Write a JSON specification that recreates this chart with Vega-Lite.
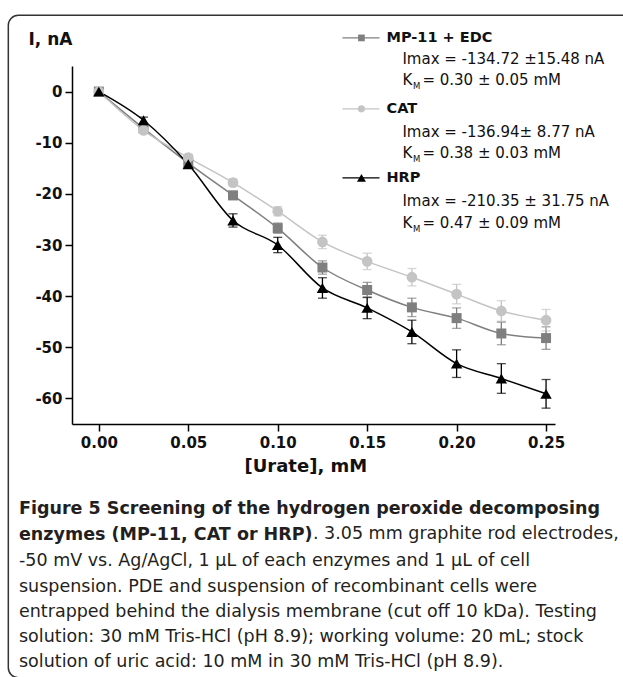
{
  "$schema": "https://vega.github.io/schema/vega-lite/v6.json",
  "width": 483,
  "height": 358,
  "autosize": "none",
  "padding": {"left": 72, "top": 66, "right": 68, "bottom": 253},
  "background": "white",
  "config": {
    "view": {"stroke": null},
    "font": "DejaVu Sans"
  },
  "title": {
    "text": ["Figure 5 Screening of the hydrogen peroxide decomposing", "enzymes (MP-11, CAT or HRP)"],
    "subtitle": [
      "-50 mV vs. Ag/AgCl, 1 µL of each enzymes and 1 µL of cell",
      "suspension. PDE and suspension of recombinant cells were",
      "entrapped behind the dialysis membrane (cut off 10 kDa). Testing",
      "solution: 30 mM Tris-HCl (pH 8.9); working volume: 20 mL; stock",
      "solution of uric acid: 10 mM in 30 mM Tris-HCl (pH 8.9)."
    ],
    "orient": "bottom",
    "anchor": "start",
    "frame": "group",
    "dx": -53,
    "offset": -178,
    "font": "DejaVu Sans",
    "fontSize": 17.5,
    "fontWeight": "bold",
    "lineHeight": 25.3,
    "color": "#231f20",
    "subtitleFont": "DejaVu Sans",
    "subtitleFontSize": 17.5,
    "subtitleFontWeight": "normal",
    "subtitleLineHeight": 25.3,
    "subtitlePadding": 9,
    "subtitleColor": "#231f20"
  },
  "data": {
    "values": [
      {"conc": 0.0, "series": "MP-11 + EDC", "I": 0.0, "err": 0.5},
      {"conc": 0.025, "series": "MP-11 + EDC", "I": -7.2, "err": 0.6},
      {"conc": 0.05, "series": "MP-11 + EDC", "I": -14.0, "err": 0.7},
      {"conc": 0.075, "series": "MP-11 + EDC", "I": -20.3, "err": 0.8},
      {"conc": 0.1, "series": "MP-11 + EDC", "I": -26.7, "err": 1.0},
      {"conc": 0.125, "series": "MP-11 + EDC", "I": -34.4, "err": 1.3},
      {"conc": 0.15, "series": "MP-11 + EDC", "I": -38.8, "err": 1.5},
      {"conc": 0.175, "series": "MP-11 + EDC", "I": -42.2, "err": 1.8},
      {"conc": 0.2, "series": "MP-11 + EDC", "I": -44.3, "err": 2.0},
      {"conc": 0.225, "series": "MP-11 + EDC", "I": -47.3, "err": 2.2},
      {"conc": 0.25, "series": "MP-11 + EDC", "I": -48.2, "err": 2.2},
      {"conc": 0.0, "series": "CAT", "I": 0.0, "err": 0.4},
      {"conc": 0.025, "series": "CAT", "I": -7.6, "err": 0.5},
      {"conc": 0.05, "series": "CAT", "I": -12.9, "err": 0.6},
      {"conc": 0.075, "series": "CAT", "I": -17.8, "err": 0.7},
      {"conc": 0.1, "series": "CAT", "I": -23.4, "err": 0.9},
      {"conc": 0.125, "series": "CAT", "I": -29.4, "err": 1.3},
      {"conc": 0.15, "series": "CAT", "I": -33.2, "err": 1.6},
      {"conc": 0.175, "series": "CAT", "I": -36.3, "err": 1.7},
      {"conc": 0.2, "series": "CAT", "I": -39.6, "err": 1.9},
      {"conc": 0.225, "series": "CAT", "I": -42.9, "err": 2.0},
      {"conc": 0.25, "series": "CAT", "I": -44.7, "err": 2.1},
      {"conc": 0.0, "series": "HRP", "I": 0.0, "err": 0.4},
      {"conc": 0.025, "series": "HRP", "I": -5.6, "err": 0.6},
      {"conc": 0.05, "series": "HRP", "I": -14.2, "err": 0.8},
      {"conc": 0.075, "series": "HRP", "I": -25.2, "err": 1.3},
      {"conc": 0.1, "series": "HRP", "I": -30.0, "err": 1.5},
      {"conc": 0.125, "series": "HRP", "I": -38.4, "err": 2.0},
      {"conc": 0.15, "series": "HRP", "I": -42.3, "err": 2.1},
      {"conc": 0.175, "series": "HRP", "I": -47.0, "err": 2.3},
      {"conc": 0.2, "series": "HRP", "I": -53.2, "err": 2.7},
      {"conc": 0.225, "series": "HRP", "I": -56.1, "err": 2.9},
      {"conc": 0.25, "series": "HRP", "I": -59.1, "err": 2.8}
    ]
  },
  "layer": [
    {
      "mark": {"type": "line", "interpolate": "monotone", "strokeWidth": 1.5, "clip": false},
      "encoding": {
        "x": {
          "field": "conc", "type": "quantitative",
          "title": "[Urate], mM",
          "scale": {"domain": [-0.015, 0.255], "nice": false, "zero": false},
          "axis": {
            "values": [0, 0.05, 0.1, 0.15, 0.2, 0.25],
            "format": ".2f",
            "grid": false,
            "labelFlush": false,
            "labelOverlap": false,
            "labelFont": "DejaVu Sans", "labelFontWeight": "bold", "labelFontSize": 15, "labelColor": "#111",
            "labelPadding": 4,
            "tickSize": 7, "tickWidth": 1.5, "tickColor": "#000",
            "domainColor": "#000", "domainWidth": 1.5,
            "titleFont": "DejaVu Sans", "titleFontWeight": "bold", "titleFontSize": 18, "titleColor": "#111",
            "titlePadding": 7,
            "titleAnchor": "start",
            "titleX": 172
          }
        },
        "y": {
          "field": "I", "type": "quantitative",
          "title": "I, nA",
          "scale": {"domain": [-65, 5], "nice": false, "zero": false},
          "axis": {
            "values": [-60, -55, -50, -45, -40, -35, -30, -25, -20, -15, -10, -5, 0, 5],
            "labelExpr": "datum.value % 10 === 0 ? replace(datum.label, '\u2212', '-') : ''",
            "grid": false,
            "labelFlush": false,
            "labelOverlap": false,
            "labelFont": "DejaVu Sans", "labelFontWeight": "bold", "labelFontSize": 15, "labelColor": "#111",
            "labelPadding": 3,
            "tickSize": {"condition": {"test": "datum.value % 10 === 0", "value": 7}, "value": 4},
            "tickWidth": 1.5, "tickColor": "#000",
            "domainColor": "#000", "domainWidth": 1.5,
            "titleAngle": 0, "titleAlign": "left", "titleBaseline": "middle",
            "titleX": -44, "titleY": -27,
            "titleFont": "DejaVu Sans", "titleFontWeight": "bold", "titleFontSize": 17, "titleColor": "#111"
          }
        },
        "color": {
          "field": "series", "type": "nominal",
          "scale": {"domain": ["MP-11 + EDC", "CAT", "HRP"], "range": ["#7f7f7f", "#c4c4c4", "#000000"]},
          "legend": null
        },
        "detail": {"field": "series"}
      }
    },
    {
      "mark": {"type": "errorbar", "ticks": {"size": 9}, "thickness": 1.3},
      "encoding": {
        "x": {"field": "conc", "type": "quantitative", "title": "[Urate], mM"},
        "y": {"field": "I", "type": "quantitative", "title": "I, nA"},
        "yError": {"field": "err"},
        "color": {"field": "series", "type": "nominal", "legend": null}
      }
    },
    {
      "mark": {"type": "point", "filled": true, "opacity": 1, "clip": false},
      "encoding": {
        "x": {"field": "conc", "type": "quantitative", "title": "[Urate], mM"},
        "y": {"field": "I", "type": "quantitative", "title": "I, nA"},
        "color": {"field": "series", "type": "nominal", "legend": null},
        "shape": {
          "field": "series", "type": "nominal",
          "scale": {"domain": ["MP-11 + EDC", "CAT", "HRP"], "range": ["square", "circle", "triangle-up"]},
          "legend": null
        },
        "size": {
          "field": "series", "type": "nominal",
          "scale": {"domain": ["MP-11 + EDC", "CAT", "HRP"], "range": [100, 130, 210]},
          "legend": null
        }
      }
    },
    {
      "data": {"values": [{"series": "MP-11 + EDC", "imax": "Imax = -134.72 ±15.48 nA", "km": "= 0.30 ± 0.05 mM", "k": "K", "m": "M"}]},
      "layer": [
        {"mark": {"type": "rule", "strokeWidth": 1.3, "clip": false},
         "encoding": {"x": {"datum": 0.1362, "type": "quantitative"}, "x2": {"datum": 0.1569}, "y": {"datum": 10.49, "type": "quantitative"}, "color": {"field": "series", "type": "nominal", "legend": null}}},
        {"mark": {"type": "point", "filled": true, "opacity": 1, "size": 45, "clip": false},
         "encoding": {"x": {"datum": 0.1468, "type": "quantitative"}, "y": {"datum": 10.49, "type": "quantitative"}, "color": {"field": "series", "type": "nominal", "legend": null}, "shape": {"field": "series", "type": "nominal", "legend": null}}},
        {"mark": {"type": "text", "align": "left", "baseline": "middle", "font": "DejaVu Sans", "fontWeight": "bold", "fontSize": 14.5, "color": "#111", "clip": false},
         "encoding": {"x": {"datum": 0.1608, "type": "quantitative"}, "y": {"datum": 10.49, "type": "quantitative"}, "text": {"field": "series"}}},
        {"mark": {"type": "text", "align": "left", "baseline": "middle", "font": "DejaVu Sans", "fontSize": 15, "color": "#111", "clip": false},
         "encoding": {"x": {"datum": 0.1697, "type": "quantitative"}, "y": {"datum": 6.39, "type": "quantitative"}, "text": {"field": "imax"}}},
        {"mark": {"type": "text", "align": "left", "baseline": "middle", "font": "DejaVu Sans", "fontSize": 15, "color": "#111", "clip": false},
         "encoding": {"x": {"datum": 0.1697, "type": "quantitative"}, "y": {"datum": 2.29, "type": "quantitative"}, "text": {"field": "k"}}},
        {"mark": {"type": "text", "align": "left", "baseline": "middle", "font": "DejaVu Sans", "fontSize": 8.5, "dx": 10.5, "dy": 6, "color": "#111", "clip": false},
         "encoding": {"x": {"datum": 0.1697, "type": "quantitative"}, "y": {"datum": 2.29, "type": "quantitative"}, "text": {"field": "m"}}},
        {"mark": {"type": "text", "align": "left", "baseline": "middle", "font": "DejaVu Sans", "fontSize": 15, "dx": 20, "color": "#111", "clip": false},
         "encoding": {"x": {"datum": 0.1697, "type": "quantitative"}, "y": {"datum": 2.29, "type": "quantitative"}, "text": {"field": "km"}}}
      ]
    },
    {
      "data": {"values": [{"series": "CAT", "imax": "Imax = -136.94± 8.77 nA", "km": "= 0.38 ± 0.03 mM", "k": "K", "m": "M"}]},
      "layer": [
        {"mark": {"type": "rule", "strokeWidth": 1.3, "clip": false},
         "encoding": {"x": {"datum": 0.1362, "type": "quantitative"}, "x2": {"datum": 0.1569}, "y": {"datum": -3.38, "type": "quantitative"}, "color": {"field": "series", "type": "nominal", "legend": null}}},
        {"mark": {"type": "point", "filled": true, "opacity": 1, "size": 50, "clip": false},
         "encoding": {"x": {"datum": 0.1468, "type": "quantitative"}, "y": {"datum": -3.38, "type": "quantitative"}, "color": {"field": "series", "type": "nominal", "legend": null}, "shape": {"field": "series", "type": "nominal", "legend": null}}},
        {"mark": {"type": "text", "align": "left", "baseline": "middle", "font": "DejaVu Sans", "fontWeight": "bold", "fontSize": 14.5, "color": "#111", "clip": false},
         "encoding": {"x": {"datum": 0.1608, "type": "quantitative"}, "y": {"datum": -3.38, "type": "quantitative"}, "text": {"field": "series"}}},
        {"mark": {"type": "text", "align": "left", "baseline": "middle", "font": "DejaVu Sans", "fontSize": 15, "color": "#111", "clip": false},
         "encoding": {"x": {"datum": 0.1697, "type": "quantitative"}, "y": {"datum": -7.88, "type": "quantitative"}, "text": {"field": "imax"}}},
        {"mark": {"type": "text", "align": "left", "baseline": "middle", "font": "DejaVu Sans", "fontSize": 15, "color": "#111", "clip": false},
         "encoding": {"x": {"datum": 0.1697, "type": "quantitative"}, "y": {"datum": -11.98, "type": "quantitative"}, "text": {"field": "k"}}},
        {"mark": {"type": "text", "align": "left", "baseline": "middle", "font": "DejaVu Sans", "fontSize": 8.5, "dx": 10.5, "dy": 6, "color": "#111", "clip": false},
         "encoding": {"x": {"datum": 0.1697, "type": "quantitative"}, "y": {"datum": -11.98, "type": "quantitative"}, "text": {"field": "m"}}},
        {"mark": {"type": "text", "align": "left", "baseline": "middle", "font": "DejaVu Sans", "fontSize": 15, "dx": 20, "color": "#111", "clip": false},
         "encoding": {"x": {"datum": 0.1697, "type": "quantitative"}, "y": {"datum": -11.98, "type": "quantitative"}, "text": {"field": "km"}}}
      ]
    },
    {
      "data": {"values": [{"series": "HRP", "imax": "Imax = -210.35 ± 31.75 nA", "km": "= 0.47 ± 0.09 mM", "k": "K", "m": "M"}]},
      "layer": [
        {"mark": {"type": "rule", "strokeWidth": 1.3, "clip": false},
         "encoding": {"x": {"datum": 0.1362, "type": "quantitative"}, "x2": {"datum": 0.1569}, "y": {"datum": -16.87, "type": "quantitative"}, "color": {"field": "series", "type": "nominal", "legend": null}}},
        {"mark": {"type": "point", "filled": true, "opacity": 1, "size": 80, "clip": false},
         "encoding": {"x": {"datum": 0.1468, "type": "quantitative"}, "y": {"datum": -16.87, "type": "quantitative"}, "color": {"field": "series", "type": "nominal", "legend": null}, "shape": {"field": "series", "type": "nominal", "legend": null}}},
        {"mark": {"type": "text", "align": "left", "baseline": "middle", "font": "DejaVu Sans", "fontWeight": "bold", "fontSize": 14.5, "color": "#111", "clip": false},
         "encoding": {"x": {"datum": 0.1608, "type": "quantitative"}, "y": {"datum": -16.87, "type": "quantitative"}, "text": {"field": "series"}}},
        {"mark": {"type": "text", "align": "left", "baseline": "middle", "font": "DejaVu Sans", "fontSize": 15, "color": "#111", "clip": false},
         "encoding": {"x": {"datum": 0.1697, "type": "quantitative"}, "y": {"datum": -21.36, "type": "quantitative"}, "text": {"field": "imax"}}},
        {"mark": {"type": "text", "align": "left", "baseline": "middle", "font": "DejaVu Sans", "fontSize": 15, "color": "#111", "clip": false},
         "encoding": {"x": {"datum": 0.1697, "type": "quantitative"}, "y": {"datum": -25.66, "type": "quantitative"}, "text": {"field": "k"}}},
        {"mark": {"type": "text", "align": "left", "baseline": "middle", "font": "DejaVu Sans", "fontSize": 8.5, "dx": 10.5, "dy": 6, "color": "#111", "clip": false},
         "encoding": {"x": {"datum": 0.1697, "type": "quantitative"}, "y": {"datum": -25.66, "type": "quantitative"}, "text": {"field": "m"}}},
        {"mark": {"type": "text", "align": "left", "baseline": "middle", "font": "DejaVu Sans", "fontSize": 15, "dx": 20, "color": "#111", "clip": false},
         "encoding": {"x": {"datum": 0.1697, "type": "quantitative"}, "y": {"datum": -25.66, "type": "quantitative"}, "text": {"field": "km"}}}
      ]
    },
    {
      "data": {"values": [{"caption": ". 3.05 mm graphite rod electrodes,"}]},
      "mark": {"type": "text", "align": "left", "baseline": "middle", "font": "DejaVu Sans", "fontSize": 17.5, "color": "#231f20", "clip": false},
      "encoding": {
        "x": {"datum": 0.1197, "type": "quantitative"},
        "y": {"datum": -86.5, "type": "quantitative"},
        "text": {"field": "caption"}
      }
    },
    {
      "data": {"values": [{"frame": "border"}]},
      "mark": {"type": "rect", "fill": "transparent", "stroke": "#333333", "strokeWidth": 1.5, "cornerRadius": 10, "clip": false},
      "encoding": {
        "x": {"datum": -0.0506, "type": "quantitative"},
        "x2": {"datum": 0.36},
        "y": {"datum": 14.9, "type": "quantitative"},
        "y2": {"datum": -114.6}
      }
    }
  ]
}
